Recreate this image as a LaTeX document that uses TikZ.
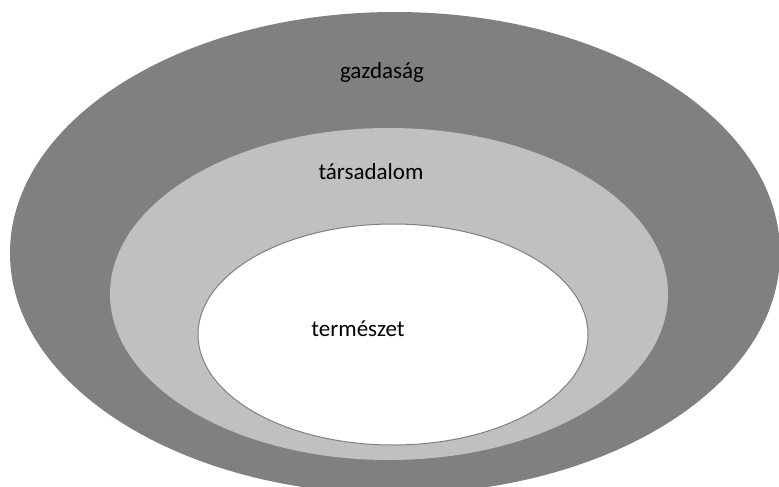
\documentclass[tikz,border=0pt]{standalone}
\usepackage{fontspec}
\setmainfont{Carlito}
\begin{document}
\begin{tikzpicture}[x=1pt,y=-1pt,
  lbl/.style={font=\fontsize{23}{27}\selectfont, text=black, inner sep=0pt}]
\useasboundingbox (0,0) rectangle (779,487);
\clip (0,0) rectangle (779,487);
\fill[fill={rgb,255:red,128;green,128;blue,128}] (395,253) ellipse [x radius=385, y radius=241];
\fill[fill={rgb,255:red,192;green,192;blue,192}] (389,294) ellipse [x radius=279, y radius=166];
\draw[draw={rgb,255:red,128;green,128;blue,128}, line width=1pt, fill=white] (393,334.5) ellipse [x radius=195, y radius=110.5];
\node[lbl] (g) at (382,72) {gazdaság};
\node[lbl] (t) at (371,172) {társadalom};
\node[lbl] (n) at (358,329) {természet};
\end{tikzpicture}
\end{document}
